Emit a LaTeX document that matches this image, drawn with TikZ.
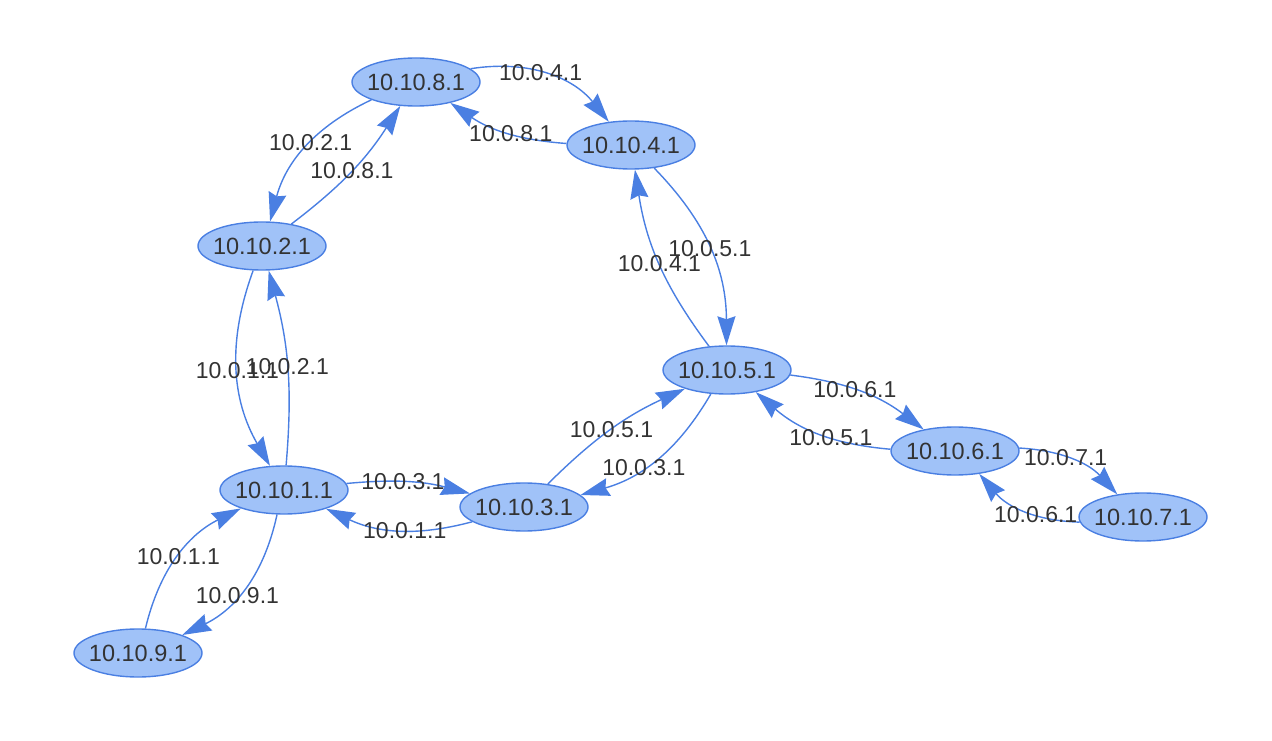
\documentclass[tikz,border=0pt]{standalone}
\usepackage{fontspec}
\setmainfont{Liberation Sans}
\usetikzlibrary{shapes.geometric,arrows.meta}
\definecolor{edgeblue}{HTML}{4A7FE2}
\definecolor{nodefill}{HTML}{A0C2F8}
\definecolor{txt}{HTML}{333333}
\newcommand\zw[1]{\makebox[0pt]{#1}}
\tikzset{
  host/.style={ellipse, draw=edgeblue, fill=nodefill, line width=1.4pt,
    minimum width=128pt, minimum height=48pt, inner sep=0pt,
    text=txt, font=\fontsize{23.5}{27}\selectfont},
  link/.style={draw=edgeblue, line width=1.4pt,
    -{Stealth[length=29pt,width=18pt,inset=3pt]}},
  lbl/.style={text=txt, font=\fontsize{23}{27}\selectfont, inner sep=1pt}
}
\begin{document}
\begin{tikzpicture}[x=1pt,y=1pt]
\useasboundingbox (0,0) rectangle (1272,740);
\node[host] (n8) at (416,658) {\zw{10.10.8.1}};
\node[host] (n4) at (631,595) {\zw{10.10.4.1}};
\node[host] (n2) at (262,494) {\zw{10.10.2.1}};
\node[host] (n1) at (284,250) {\zw{10.10.1.1}};
\node[host] (n9) at (138,87) {\zw{10.10.9.1}};
\node[host] (n3) at (524,233) {\zw{10.10.3.1}};
\node[host] (n5) at (727,370) {\zw{10.10.5.1}};
\node[host] (n6) at (955,289) {\zw{10.10.6.1}};
\node[host] (n7) at (1143,223) {\zw{10.10.7.1}};

\draw[link] (n8) to[bend left=30] node[lbl,pos=0.45] {10.0.4.1} (n4);
\draw[link] (n4) to[bend left=15] node[lbl,pos=0.45] {10.0.8.1} (n8);
\draw[link] (n8) to[bend right=25] node[lbl,pos=0.45] {10.0.2.1} (n2);
\draw[link] (n2) to[bend right=10] node[lbl] {10.0.8.1} (n8);
\draw[link] (n2) to[bend right=25] node[lbl] {10.0.1.1} (n1);
\draw[link] (n1) to[bend right=10] node[lbl] {10.0.2.1} (n2);
\draw[link] (n1) to[bend left=10] node[lbl,pos=0.45] {10.0.3.1} (n3);
\draw[link] (n3) to[bend left=20] node[lbl,pos=0.45] {10.0.1.1} (n1);
\draw[link] (n1) to[bend left=26] node[lbl,pos=0.58] {10.0.9.1} (n9);
\draw[link] (n9) to[bend left=25] node[lbl] {10.0.1.1} (n1);
\draw[link] (n3) to[bend left=10] node[lbl] {10.0.5.1} (n5);
\draw[link] (n5) to[bend left=22] node[lbl,pos=0.6] {10.0.3.1} (n3);
\draw[link] (n4) to[bend left=22] node[lbl] {10.0.5.1} (n5);
\draw[link] (n5) to[bend left=14] node[lbl] {10.0.4.1} (n4);
\draw[link] (n5) to[bend left=15] node[lbl,pos=0.45] {10.0.6.1} (n6);
\draw[link] (n6) to[bend left=18] node[lbl,pos=0.4] {10.0.5.1} (n5);
\draw[link] (n6) to[bend left=22] node[lbl,pos=0.42] {10.0.7.1} (n7);
\draw[link] (n7) to[bend left=24] node[lbl,pos=0.38] {10.0.6.1} (n6);
\end{tikzpicture}
\end{document}
